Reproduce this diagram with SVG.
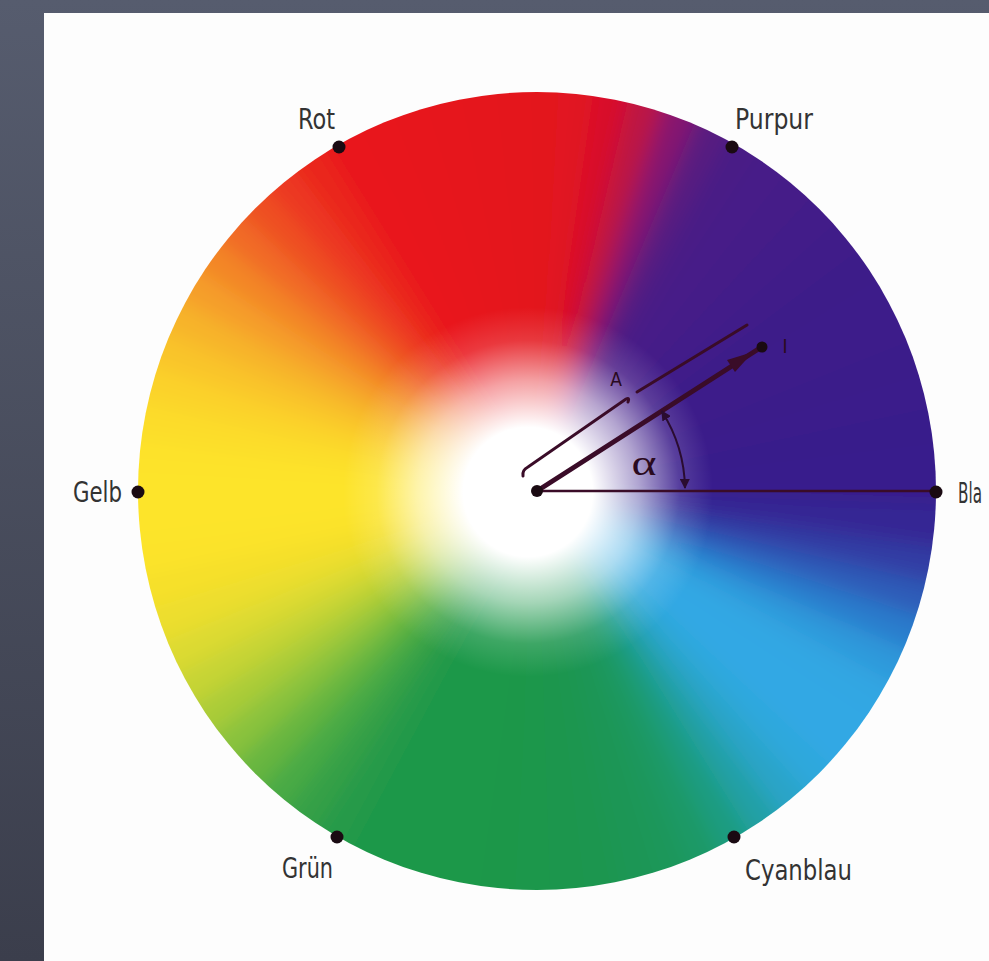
<svg xmlns="http://www.w3.org/2000/svg" width="989" height="961" viewBox="0 0 989 961">
<style>
.lbl{font-family:"Liberation Sans Narrow","DejaVu Sans Condensed","Liberation Sans",sans-serif;font-size:29px;fill:#333;}
.dot{fill:#1a0a12;}
.ink{stroke:#3a0c28;fill:none;stroke-linecap:round;}
.small{font-family:"DejaVu Sans Condensed","Liberation Sans",sans-serif;font-size:19px;fill:#2a0a20;}
</style>
<defs>
<linearGradient id="bg" x1="0" y1="0" x2="0" y2="1">
<stop offset="0" stop-color="#565c6e"/>
<stop offset="1" stop-color="#3b3e4c"/>
</linearGradient>
<path id="w" d="M0 0 L440 -24 L440 24 Z"/>
<clipPath id="cc"><circle cx="537" cy="491" r="399"/></clipPath>
<filter id="bl" x="-10%" y="-10%" width="120%" height="120%"><feGaussianBlur stdDeviation="10"/></filter>
<radialGradient id="wh" cx="528" cy="492" r="185" gradientUnits="userSpaceOnUse">
<stop offset="0" stop-color="#fff" stop-opacity="1"/>
<stop offset="0.35" stop-color="#fff" stop-opacity="1"/>
<stop offset="0.6" stop-color="#fff" stop-opacity="0.6"/>
<stop offset="0.82" stop-color="#fff" stop-opacity="0.15"/>
<stop offset="1" stop-color="#fff" stop-opacity="0"/>
</radialGradient>
<marker id="ah" viewBox="0 0 10 10" refX="9" refY="5" markerWidth="5" markerHeight="5" orient="auto-start-reverse">
<path d="M0 0 L10 5 L0 10 Z" fill="#2a0c30"/>
</marker>
</defs>
<rect width="989" height="961" fill="url(#bg)"/>
<rect x="44" y="13" width="945" height="948" fill="#fdfdfd"/>
<g id="wheel" clip-path="url(#cc)">
<g filter="url(#bl)" transform="translate(537 491)">
<use href="#w" transform="rotate(0)" fill="#381c8c"/>
<use href="#w" transform="rotate(-5)" fill="#381b8c"/>
<use href="#w" transform="rotate(-10)" fill="#391b8b"/>
<use href="#w" transform="rotate(-15)" fill="#3a1b8b"/>
<use href="#w" transform="rotate(-20)" fill="#3b1a8a"/>
<use href="#w" transform="rotate(-25)" fill="#3c1a8a"/>
<use href="#w" transform="rotate(-30)" fill="#3d1a8a"/>
<use href="#w" transform="rotate(-35)" fill="#3e1a89"/>
<use href="#w" transform="rotate(-40)" fill="#401a89"/>
<use href="#w" transform="rotate(-45)" fill="#421a89"/>
<use href="#w" transform="rotate(-50)" fill="#441a88"/>
<use href="#w" transform="rotate(-55)" fill="#461a88"/>
<use href="#w" transform="rotate(-60)" fill="#4a1a86"/>
<use href="#w" transform="rotate(-65)" fill="#581a80"/>
<use href="#w" transform="rotate(-70)" fill="#861870"/>
<use href="#w" transform="rotate(-75)" fill="#bc1444"/>
<use href="#w" transform="rotate(-80)" fill="#d8102c"/>
<use href="#w" transform="rotate(-85)" fill="#e11224"/>
<use href="#w" transform="rotate(-90)" fill="#e3121f"/>
<use href="#w" transform="rotate(-95)" fill="#e4121e"/>
<use href="#w" transform="rotate(-100)" fill="#e5131e"/>
<use href="#w" transform="rotate(-105)" fill="#e6141d"/>
<use href="#w" transform="rotate(-110)" fill="#e7141c"/>
<use href="#w" transform="rotate(-115)" fill="#e8161c"/>
<use href="#w" transform="rotate(-120)" fill="#e9181c"/>
<use href="#w" transform="rotate(-125)" fill="#ea261e"/>
<use href="#w" transform="rotate(-130)" fill="#ec3820"/>
<use href="#w" transform="rotate(-135)" fill="#ee5022"/>
<use href="#w" transform="rotate(-140)" fill="#f16a26"/>
<use href="#w" transform="rotate(-145)" fill="#f38628"/>
<use href="#w" transform="rotate(-150)" fill="#f59e2a"/>
<use href="#w" transform="rotate(-155)" fill="#f7b42a"/>
<use href="#w" transform="rotate(-160)" fill="#f9c42a"/>
<use href="#w" transform="rotate(-165)" fill="#fbd22a"/>
<use href="#w" transform="rotate(-170)" fill="#fcdc2a"/>
<use href="#w" transform="rotate(-175)" fill="#fde22a"/>
<use href="#w" transform="rotate(-180)" fill="#fde42a"/>
<use href="#w" transform="rotate(-185)" fill="#fde42a"/>
<use href="#w" transform="rotate(-190)" fill="#fce32c"/>
<use href="#w" transform="rotate(-195)" fill="#f6e02c"/>
<use href="#w" transform="rotate(-200)" fill="#ecde2e"/>
<use href="#w" transform="rotate(-205)" fill="#dcda30"/>
<use href="#w" transform="rotate(-210)" fill="#c6d434"/>
<use href="#w" transform="rotate(-215)" fill="#aacc38"/>
<use href="#w" transform="rotate(-220)" fill="#8ac23c"/>
<use href="#w" transform="rotate(-225)" fill="#68b640"/>
<use href="#w" transform="rotate(-230)" fill="#4aaa44"/>
<use href="#w" transform="rotate(-235)" fill="#34a046"/>
<use href="#w" transform="rotate(-240)" fill="#269a48"/>
<use href="#w" transform="rotate(-245)" fill="#1f9848"/>
<use href="#w" transform="rotate(-250)" fill="#1e9848"/>
<use href="#w" transform="rotate(-255)" fill="#1e9848"/>
<use href="#w" transform="rotate(-260)" fill="#1d984a"/>
<use href="#w" transform="rotate(-265)" fill="#1d974a"/>
<use href="#w" transform="rotate(-270)" fill="#1c974c"/>
<use href="#w" transform="rotate(-275)" fill="#1c964e"/>
<use href="#w" transform="rotate(-280)" fill="#1c9650"/>
<use href="#w" transform="rotate(-285)" fill="#1b9654"/>
<use href="#w" transform="rotate(-290)" fill="#1b975a"/>
<use href="#w" transform="rotate(-295)" fill="#1a9966"/>
<use href="#w" transform="rotate(-300)" fill="#1c9c80"/>
<use href="#w" transform="rotate(-305)" fill="#22a0a6"/>
<use href="#w" transform="rotate(-310)" fill="#2aa4c8"/>
<use href="#w" transform="rotate(-315)" fill="#2ea8dc"/>
<use href="#w" transform="rotate(-320)" fill="#30a8e4"/>
<use href="#w" transform="rotate(-325)" fill="#30a8e4"/>
<use href="#w" transform="rotate(-330)" fill="#30a6e2"/>
<use href="#w" transform="rotate(-335)" fill="#2e98da"/>
<use href="#w" transform="rotate(-340)" fill="#2c7ccc"/>
<use href="#w" transform="rotate(-345)" fill="#2e5cb8"/>
<use href="#w" transform="rotate(-350)" fill="#323ca4"/>
<use href="#w" transform="rotate(-355)" fill="#362694"/>
</g>
<circle cx="537" cy="491" r="400" fill="url(#wh)"/>
</g>
<g id="connectors">
<line class="ink" x1="537" y1="491" x2="936" y2="491" stroke-width="2.5"/>
<line class="ink" x1="537" y1="491" x2="760" y2="348" stroke-width="5"/>
<polygon points="753,352 735,372 727,360" fill="#3a0c28"/>
<path class="ink" stroke-width="3" d="M523 476 Q522 470 528 467 L626 399 Q630 397 628 402"/>
<path class="ink" stroke-width="3" d="M637 392 L747 325"/>
<path d="M661.8 411.2 A148 148 0 0 1 685 488" fill="none" stroke="#2a0c30" stroke-width="2" marker-start="url(#ah)" marker-end="url(#ah)"/>
</g>
<g id="center"><circle class="dot" cx="537" cy="491" r="6"/></g>
<g id="vectorEnd"><circle class="dot" cx="762" cy="347" r="5.5"/><text class="small" x="785" y="353" text-anchor="middle">I</text></g>
<g id="labelA"><text class="small" x="616" y="386" text-anchor="middle">A</text></g>
<g id="alpha"><text x="644" y="475" text-anchor="middle" font-family="Liberation Serif,serif" font-size="36" fill="#2a0a20" textLength="25" lengthAdjust="spacingAndGlyphs">α</text></g>
<g id="rot"><circle class="dot" cx="339" cy="147" r="6.5"/><text class="lbl" x="298" y="129" textLength="37" lengthAdjust="spacingAndGlyphs">Rot</text></g>
<g id="purpur"><circle class="dot" cx="732" cy="147" r="6.5"/><text class="lbl" x="735" y="129" textLength="78" lengthAdjust="spacingAndGlyphs">Purpur</text></g>
<g id="gelb"><circle class="dot" cx="138" cy="492" r="6.5"/><text class="lbl" x="73" y="502" textLength="49" lengthAdjust="spacingAndGlyphs">Gelb</text></g>
<g id="blau"><circle class="dot" cx="936" cy="492" r="6.5"/><text class="lbl" x="958" y="503" textLength="24" lengthAdjust="spacingAndGlyphs">Bla</text></g>
<g id="gruen"><circle class="dot" cx="337" cy="837" r="6.5"/><text class="lbl" x="282" y="878" textLength="51" lengthAdjust="spacingAndGlyphs">Grün</text></g>
<g id="cyanblau"><circle class="dot" cx="734" cy="837" r="6.5"/><text class="lbl" x="745" y="880" textLength="107" lengthAdjust="spacingAndGlyphs">Cyanblau</text></g>
</svg>
